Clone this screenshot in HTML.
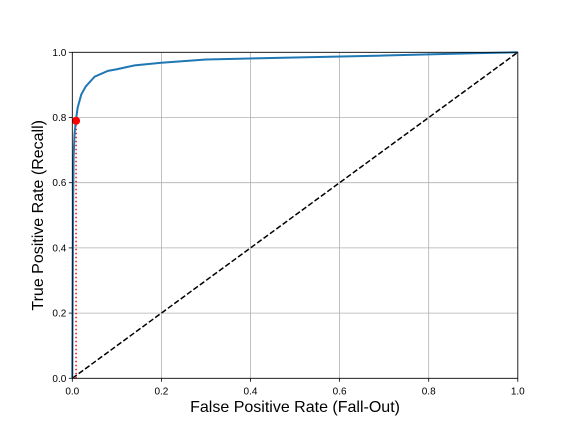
<!DOCTYPE html>
<html><head><meta charset="utf-8"><style>body{margin:0;background:#fff}svg{display:block;font-family:"Liberation Sans",sans-serif}</style></head>
<body>
<svg id="c" width="576" height="432"></svg>
<script>
const fpr=[0,0.001,0.002,0.003,0.005,0.008,0.012,0.02,0.03,0.05,0.08,0.1,0.14,0.2,0.3,0.5,0.7,0.9,1];
const tpr=[0,0.3,0.55,0.68,0.75,0.79,0.83,0.87,0.895,0.925,0.943,0.948,0.96,0.968,0.978,0.984,0.99,0.997,1];
const pointX=[0.0085];const pointY=[0.79];
const ticks=[0,0.2,0.4,0.6,0.8,1.0];
const tickLabels=["0.0","0.2","0.4","0.6","0.8","1.0"];
const L=72.3,R=517.8,T=52.3,B=378.3;
const sx=v=>L+v*(R-L), sy=v=>B-v*(B-T);
const svg=document.getElementById('c');const NS='http://www.w3.org/2000/svg';
function mk(t,a,p){const e=document.createElementNS(NS,t);for(const k in a)e.setAttribute(k,a[k]);(p||svg).appendChild(e);return e;}
ticks.forEach((t,i)=>{
 let g=mk('line',{x1:sx(t),x2:sx(t),y1:T,y2:B,stroke:'#b0b0b0','stroke-width':0.8});
 
 
 g=mk('line',{x1:L,x2:R,y1:sy(t),y2:sy(t),stroke:'#b0b0b0','stroke-width':0.8});
 
 
 let k=mk('line',{x1:sx(t),x2:sx(t),y1:B,y2:B+3.5,stroke:'#000','stroke-width':0.8});
 
 
 k=mk('line',{x1:L-3.5,x2:L,y1:sy(t),y2:sy(t),stroke:'#000','stroke-width':0.8});
 
 
 let tx=mk('text',{x:sx(t),y:B+16,'text-anchor':'middle','font-size':10});tx.textContent=tickLabels[i];
 
 
 tx=mk('text',{x:L-6,y:sy(t)+3.5,'text-anchor':'end','font-size':10});tx.textContent=tickLabels[i];
 
 
});
let d=mk('line',{x1:sx(0),y1:sy(0),x2:sx(1),y2:sy(1),stroke:'#000','stroke-width':1.5,'stroke-dasharray':'5.5,2.4'});


let rl=mk('line',{x1:sx(pointX[0]),y1:sy(pointY[0]),x2:sx(pointX[0]),y2:sy(0),stroke:'red','stroke-width':1.5,'stroke-dasharray':'1.5,2.5'});


let p=mk('polyline',{points:fpr.map((v,i)=>sx(v)+','+sy(tpr[i])).join(' '),fill:'none',stroke:'#1f77b4','stroke-width':2});


let c=mk('circle',{cx:sx(pointX[0]),cy:sy(pointY[0]),r:4,fill:'red'});


let f=mk('rect',{x:L,y:T,width:R-L,height:B-T,fill:'none',stroke:'#000','stroke-width':0.8});


let xt=mk('text',{x:(L+R)/2,y:412,'text-anchor':'middle','font-size':16});xt.textContent='False Positive Rate (Fall-Out)';


let yt=mk('text',{x:0,y:0,'text-anchor':'middle','font-size':16,transform:`translate(43,${(T+B)/2}) rotate(-90)`});yt.textContent='True Positive Rate (Recall)';


</script>
</body></html>
